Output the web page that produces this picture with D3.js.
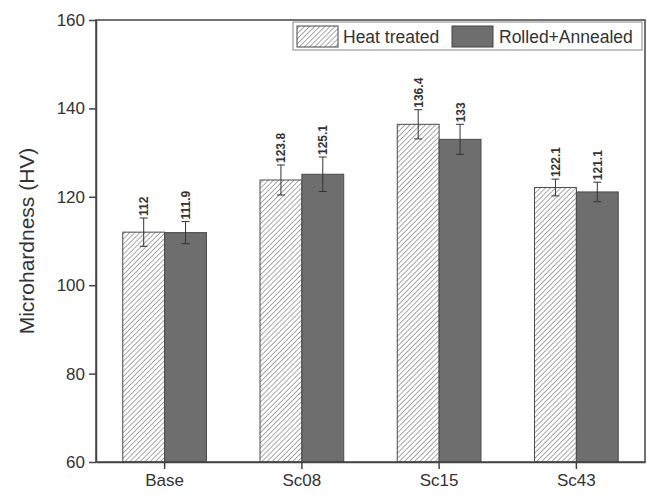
<!DOCTYPE html>
<html>
<head>
<meta charset="utf-8">
<script src="https://cdn.jsdelivr.net/npm/d3@7"></script>
<style>
body { margin: 0; background: #fff; }
text { font-family: Arial, "Liberation Sans", sans-serif; }
</style>
</head>
<body>
<script>
var width = 647, height = 495;
//Chart data.
var categories = ['Base', 'Sc08', 'Sc15', 'Sc43'];
var seriesNames = ['Heat treated', 'Rolled+Annealed'];
var heatTreated = [112, 123.8, 136.4, 122.1];
var rolledAnnealed = [111.9, 125.1, 133, 121.1];
var heatErr = [3.2, 3.4, 3.3, 1.9];
var rolledErr = [2.5, 3.9, 3.4, 2.2];
var yTicks = [60, 80, 100, 120, 140, 160];

var margin = {top: 20, right: 2, bottom: 33, left: 96};
var innerWidth = width - margin.left - margin.right;
var innerHeight = height - margin.top - margin.bottom;

var svg = d3.select('body').append('svg')
	.attr('width', width)
	.attr('height', height);

//Hatch pattern for the heat treated bars.
var defs = svg.append('defs');
var pat = defs.append('pattern')
	.attr('id', 'hatch')
	.attr('patternUnits', 'userSpaceOnUse')
	.attr('width', 3.6).attr('height', 3.6)
	.attr('patternTransform', 'rotate(45)');
pat.append('rect').attr('width', 3.6).attr('height', 3.6).attr('fill', '#fff');
pat.append('line')
	.attr('x1', 0).attr('y1', 0).attr('x2', 0).attr('y2', 3.6)
	.attr('stroke', '#7a7a7a').attr('stroke-width', 1.3);

var inner = svg.append('g')
	.attr('transform', 'translate(' + margin.left + ',' + margin.top + ')');

var x0 = d3.scaleBand().domain(categories).range([0, innerWidth]).paddingInner(0.39).paddingOuter(0.195);
var x1 = d3.scaleBand().domain(seriesNames).range([0, x0.bandwidth()]);
var y = d3.scaleLinear().domain([60, 160]).range([innerHeight, 0]);

var rows = categories.map(function(c, i) {
	return {cat: c, vals: [
		{s: seriesNames[0], v: heatTreated[i], e: heatErr[i]},
		{s: seriesNames[1], v: rolledAnnealed[i], e: rolledErr[i]}
	]};
});

var groups = inner.selectAll('.grp').data(rows).enter().append('g')
	.attr('class', 'grp')
	.attr('transform', function(d) { return 'translate(' + x0(d.cat) + ',0)'; });

var bars = groups.selectAll('.bar').data(function(d) { return d.vals; }).enter().append('g');
bars.append('rect')
	.attr('x', function(d) { return x1(d.s); })
	.attr('y', function(d) { return y(d.v); })
	.attr('width', x1.bandwidth())
	.attr('height', function(d) { return innerHeight - y(d.v); })
	.attr('fill', function(d) { return d.s == seriesNames[0] ? 'url(#hatch)' : '#6e6e6e'; })
	.attr('stroke', '#4a4a4a')
	.attr('stroke-width', 1);

//Error bars.
var cx = function(d) { return x1(d.s) + x1.bandwidth() / 2; };
bars.append('line')
	.attr('x1', cx).attr('x2', cx)
	.attr('y1', function(d) { return y(d.v - d.e); })
	.attr('y2', function(d) { return y(d.v + d.e); })
	.attr('stroke', '#333').attr('stroke-width', 1);
bars.append('line')
	.attr('x1', function(d) { return cx(d) - 4; })
	.attr('x2', function(d) { return cx(d) + 4; })
	.attr('y1', function(d) { return y(d.v - d.e); })
	.attr('y2', function(d) { return y(d.v - d.e); })
	.attr('stroke', '#333').attr('stroke-width', 1);
bars.append('line')
	.attr('x1', function(d) { return cx(d) - 4; })
	.attr('x2', function(d) { return cx(d) + 4; })
	.attr('y1', function(d) { return y(d.v + d.e); })
	.attr('y2', function(d) { return y(d.v + d.e); })
	.attr('stroke', '#333').attr('stroke-width', 1);

//Value labels, rotated.
bars.append('text')
	.attr('transform', function(d) { return 'translate(' + (cx(d) + 4.5) + ',' + (y(d.v + d.e) - 2) + ') rotate(-90)'; })
	.attr('font-size', 12)
	.attr('font-weight', 'bold')
	.attr('fill', '#333')
	.text(function(d) { return d.v; });

//Frame.
inner.append('rect')
	.attr('width', innerWidth).attr('height', innerHeight)
	.attr('fill', 'none').attr('stroke', '#444').attr('stroke-width', 1.5);

//Axes.
var yAxis = inner.append('g').call(d3.axisLeft(y).tickValues(yTicks).tickSize(7).tickSizeOuter(0).tickPadding(4));
var xAxis = inner.append('g').attr('transform', 'translate(0,' + innerHeight + ')')
	.call(d3.axisBottom(x0).tickSize(7).tickSizeOuter(0).tickPadding(5));
[yAxis, xAxis].forEach(function(a) {
	a.select('.domain').attr('stroke', '#444').attr('stroke-width', 1.5);
	a.selectAll('.tick line').attr('stroke', '#444').attr('stroke-width', 1.5);
	a.selectAll('.tick text').attr('font-size', 17).attr('fill', '#333')
		.attr('font-family', 'Arial, "Liberation Sans", sans-serif');
});

svg.append('text')
	.attr('transform', 'translate(34,' + (margin.top + innerHeight / 2) + ') rotate(-90)')
	.attr('text-anchor', 'middle')
	.attr('font-size', 21)
	.attr('fill', '#333')
	.text('Microhardness (HV)');

//Legend.
var legend = svg.append('g').attr('transform', 'translate(293,22)');
legend.append('rect')
	.attr('width', 349).attr('height', 28)
	.attr('fill', '#fff').attr('stroke', '#888').attr('stroke-width', 1);
var lx = [4, 159];
var tx = [50, 206];
seriesNames.forEach(function(s, i) {
	legend.append('rect')
		.attr('x', lx[i]).attr('y', 4).attr('width', 41).attr('height', 21)
		.attr('fill', i == 0 ? 'url(#hatch)' : '#6e6e6e')
		.attr('stroke', '#444').attr('stroke-width', 1);
	legend.append('text')
		.attr('x', tx[i]).attr('y', 21)
		.attr('font-size', 17.5).attr('fill', '#333')
		.text(s);
});
</script>
</body>
</html>
